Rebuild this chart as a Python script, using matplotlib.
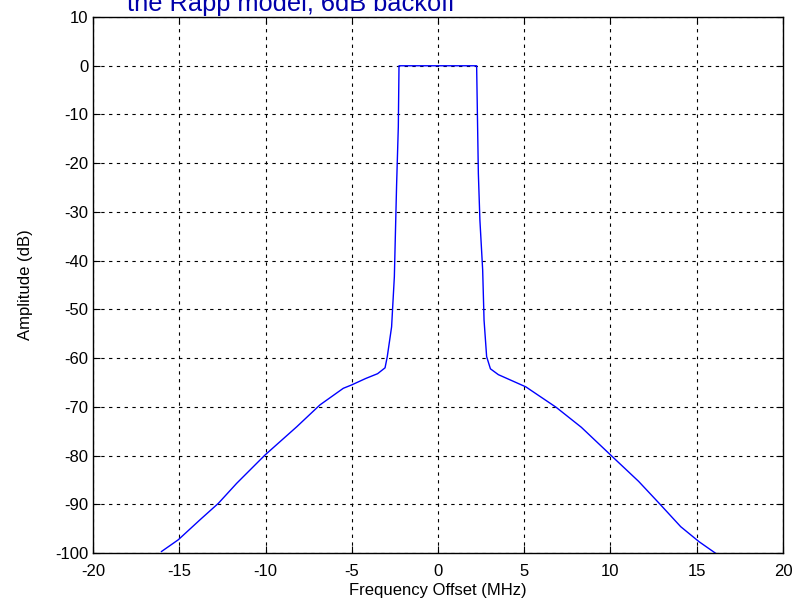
import matplotlib
matplotlib.use('Agg')
import matplotlib.pyplot as plt

plt.rcParams['font.family'] = ['Liberation Sans', 'DejaVu Sans']
plt.rcParams['axes.unicode_minus'] = False

# spectrum (MHz, dB)
freq = [-16.03, -15.06, -13.80, -12.73, -11.67, -10.03, -8.19, -6.84, -5.49, -5.0,
        -4.2, -3.5, -3.07, -2.94, -2.69, -2.53, -2.40, -2.30, -2.26,
        0.0,
        2.24, 2.34, 2.43, 2.59, 2.67, 2.82, 3.04, 3.5, 4.2,
        5.09, 6.85, 8.31, 10.07, 11.63, 12.90, 14.07, 15.14, 16.11]
amp = [-99.7, -97.3, -93.2, -89.8, -85.7, -79.9, -74.1, -69.6, -66.2, -65.5,
       -64.2, -63.2, -62.0, -59.7, -53.6, -43.3, -24.5, -12.5, 0.0,
       0.0,
       0.0, -22.1, -31.7, -41.9, -52.2, -59.7, -62.2, -63.4, -64.5,
       -65.9, -70.1, -74.2, -80.1, -85.3, -90.1, -94.6, -97.7, -100.1]

xticks = list(range(-20, 21, 5))
yticks = list(range(-100, 11, 10))

fig = plt.figure(figsize=(7.97, 6.09), dpi=100)
ax = fig.add_axes([0.1167, 0.092, 0.8657, 0.880])
ax.plot(freq, amp, color='#0000ff', lw=1.0)
ax.set_xlim(-20, 20)
ax.set_ylim(-100, 10)
ax.set_xticks(xticks)
ax.set_yticks(yticks)
ax.grid(True, color='black', linestyle=(0, (3, 4)), lw=0.8)
ax.tick_params(direction='in', top=True, right=True, labelsize=12, length=5)
ax.tick_params(axis='x', pad=8)
for s in ax.spines.values():
    s.set_linewidth(1.0)
ax.set_xlabel('Frequency Offset (MHz)', fontsize=12, labelpad=3)
ax.set_ylabel('Amplitude (dB)', fontsize=12, labelpad=16)

# title is clipped at the top edge in the original, second line only shows
fig.text(127 / 797, 1 - 11 / 609, 'the Rapp model, 6dB backoff', color='#0000aa',
         fontsize=18.3, ha='left', va='baseline')

fig.savefig('out.png', dpi=100)
